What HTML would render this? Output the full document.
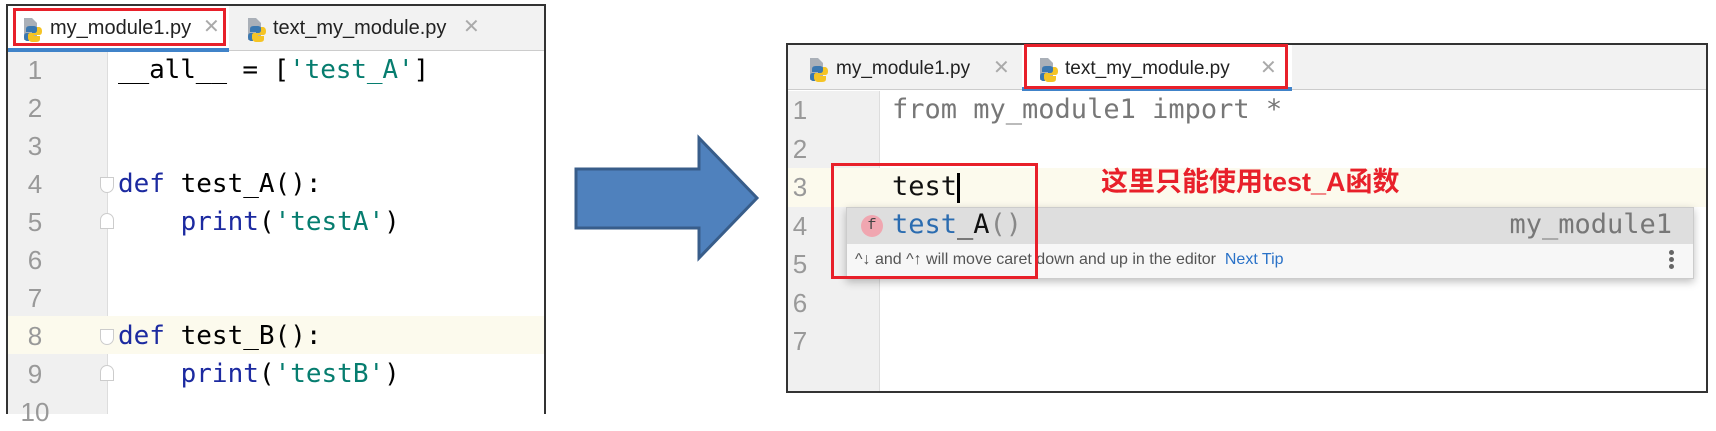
<!DOCTYPE html>
<html><head><meta charset="utf-8"><style>
*{margin:0;padding:0;box-sizing:border-box}
body{width:1716px;height:407px;background:#fff;position:relative;overflow:hidden;font-family:"Liberation Sans","Noto Sans CJK SC",sans-serif}
.a{position:absolute}
.mono{font-family:"DejaVu Sans Mono","Liberation Mono",monospace;white-space:pre}
.ln{position:absolute;font-family:"Liberation Sans",sans-serif;color:#999;font-size:26px;line-height:38px;width:40px;text-align:center}
.kw{color:#1c2aa0}.st{color:#067d6f}
.icon{position:absolute;width:20px;height:24px}
.tab{position:absolute;font-size:19px;color:#222;line-height:24px}
.x{position:absolute;color:#aaa;font-size:20px;line-height:24px}
</style></head><body>

<!-- LEFT PANEL -->
<div class="a" style="left:6px;top:4px;width:540px;height:410px;border:2px solid #333;border-bottom:none;background:#fff;overflow:hidden">
  <div class="a" style="left:0;top:0;width:540px;height:45px;background:#f2f2f2;border-bottom:1px solid #ccc"></div>
  <div class="a" style="left:0;top:0;width:221px;height:45px;background:#fff"></div>
  <div class="a" style="left:0;top:42px;width:221px;height:4px;background:#4083c9"></div>
  <div class="a" style="left:0;top:46px;width:100px;height:370px;background:#f0f0f0;border-right:1px solid #ddd"></div>
  <div class="a" style="left:0;top:310px;width:540px;height:38px;background:#fcfaed"></div>
</div>
<svg class="a" style="left:22px;top:16px" width="22" height="26"><path d="M2 2h8l5 5v17H2z" fill="#aab0b8"/><path d="M8 10c-4 0-4 2-4 4v2h6v1H5c-2 0-3 1-3 4s2 4 3 4h2v-3c0-2 1-3 3-3h4c1 0 2-1 2-2v-3c0-2-2-4-4-4z" fill="#3b78b0"/><path d="M14 26c4 0 4-2 4-4v-2h-6v-1h5c2 0 3-1 3-4s-2-4-3-4h-2v3c0 2-1 3-3 3H8c-1 0-2 1-2 2v3c0 2 2 4 4 4z" fill="#f5c425"/></svg>
<div class="tab" style="left:50px;top:16px;font-size:20px">my_module1.py</div>
<div class="x" style="left:203px;top:15px">✕</div>
<svg class="a" style="left:246px;top:16px" width="22" height="26"><path d="M2 2h8l5 5v17H2z" fill="#aab0b8"/><path d="M8 10c-4 0-4 2-4 4v2h6v1H5c-2 0-3 1-3 4s2 4 3 4h2v-3c0-2 1-3 3-3h4c1 0 2-1 2-2v-3c0-2-2-4-4-4z" fill="#3b78b0"/><path d="M14 26c4 0 4-2 4-4v-2h-6v-1h5c2 0 3-1 3-4s-2-4-3-4h-2v3c0 2-1 3-3 3H8c-1 0-2 1-2 2v3c0 2 2 4 4 4z" fill="#f5c425"/></svg>
<div class="tab" style="left:273px;top:16px;font-size:20px">text_my_module.py</div>
<div class="x" style="left:463px;top:15px">✕</div>
<div class="a" style="left:13px;top:8px;width:213px;height:38px;border:3px solid #e8202a"></div>

<div class="ln" style="left:15px;top:51px">1</div>
<div class="ln" style="left:15px;top:89px">2</div>
<div class="ln" style="left:15px;top:127px">3</div>
<div class="ln" style="left:15px;top:165px">4</div>
<div class="ln" style="left:15px;top:203px">5</div>
<div class="ln" style="left:15px;top:241px">6</div>
<div class="ln" style="left:15px;top:279px">7</div>
<div class="ln" style="left:15px;top:317px">8</div>
<div class="ln" style="left:15px;top:355px">9</div>
<div class="ln" style="left:15px;top:393px">10</div>
<div class="a" style="left:100px;top:177px;width:14px;height:16px;border:1px solid #ccc;border-radius:0 0 7px 7px;background:#fff"></div>
<div class="a" style="left:100px;top:213px;width:14px;height:16px;border:1px solid #ccc;border-radius:7px 7px 0 0;background:#fff"></div>
<div class="a" style="left:100px;top:329px;width:14px;height:16px;border:1px solid #ccc;border-radius:0 0 7px 7px;background:#fff"></div>
<div class="a" style="left:100px;top:365px;width:14px;height:16px;border:1px solid #ccc;border-radius:7px 7px 0 0;background:#fff"></div>

<div class="a mono" style="left:118px;top:51px;font-size:26px;line-height:38px;letter-spacing:-0.1px">__all__ = [<span class="st">'test_A'</span>]</div>
<div class="a mono" style="left:118px;top:165px;font-size:26px;line-height:38px"><span class="kw">def</span> test_A():</div>
<div class="a mono" style="left:118px;top:203px;font-size:26px;line-height:38px">    <span class="kw">print</span>(<span class="st">'testA'</span>)</div>
<div class="a mono" style="left:118px;top:317px;font-size:26px;line-height:38px"><span class="kw">def</span> test_B():</div>
<div class="a mono" style="left:118px;top:355px;font-size:26px;line-height:38px">    <span class="kw">print</span>(<span class="st">'testB'</span>)</div>

<!-- ARROW -->
<svg class="a" style="left:570px;top:132px" width="195" height="132"><polygon points="6,37 129,37 129,6 187,66 129,126 129,96 6,96" fill="#4f81bd" stroke="#385d8a" stroke-width="3"/></svg>

<!-- RIGHT PANEL -->
<div class="a" style="left:786px;top:43px;width:922px;height:350px;border:2px solid #333;background:#fff;overflow:hidden">
  <div class="a" style="left:0;top:0;width:922px;height:45px;background:#f2f2f2;border-bottom:1px solid #ccc"></div>
  <div class="a" style="left:234px;top:0;width:270px;height:45px;background:#fff"></div>
  <div class="a" style="left:234px;top:42px;width:270px;height:4px;background:#4083c9"></div>
  <div class="a" style="left:0;top:46px;width:92px;height:310px;background:#f0f0f0;border-right:1px solid #ddd"></div>
  <div class="a" style="left:0;top:123px;width:922px;height:39px;background:#fcfaed"></div>
</div>
<svg class="a" style="left:808px;top:56px" width="22" height="26"><path d="M2 2h8l5 5v17H2z" fill="#aab0b8"/><path d="M8 10c-4 0-4 2-4 4v2h6v1H5c-2 0-3 1-3 4s2 4 3 4h2v-3c0-2 1-3 3-3h4c1 0 2-1 2-2v-3c0-2-2-4-4-4z" fill="#3b78b0"/><path d="M14 26c4 0 4-2 4-4v-2h-6v-1h5c2 0 3-1 3-4s-2-4-3-4h-2v3c0 2-1 3-3 3H8c-1 0-2 1-2 2v3c0 2 2 4 4 4z" fill="#f5c425"/></svg>
<div class="tab" style="left:836px;top:57px">my_module1.py</div>
<div class="x" style="left:993px;top:56px">✕</div>
<svg class="a" style="left:1038px;top:56px" width="22" height="26"><path d="M2 2h8l5 5v17H2z" fill="#aab0b8"/><path d="M8 10c-4 0-4 2-4 4v2h6v1H5c-2 0-3 1-3 4s2 4 3 4h2v-3c0-2 1-3 3-3h4c1 0 2-1 2-2v-3c0-2-2-4-4-4z" fill="#3b78b0"/><path d="M14 26c4 0 4-2 4-4v-2h-6v-1h5c2 0 3-1 3-4s-2-4-3-4h-2v3c0 2-1 3-3 3H8c-1 0-2 1-2 2v3c0 2 2 4 4 4z" fill="#f5c425"/></svg>
<div class="tab" style="left:1065px;top:57px">text_my_module.py</div>
<div class="x" style="left:1260px;top:56px">✕</div>
<div class="a" style="left:1024px;top:44px;width:264px;height:45px;border:3px solid #e8202a"></div>

<div class="ln" style="left:780px;top:91px">1</div>
<div class="ln" style="left:780px;top:130px">2</div>
<div class="ln" style="left:780px;top:168px">3</div>
<div class="ln" style="left:780px;top:207px">4</div>
<div class="ln" style="left:780px;top:245px">5</div>
<div class="ln" style="left:780px;top:284px">6</div>
<div class="ln" style="left:780px;top:322px">7</div>

<div class="a mono" style="left:892px;top:91px;font-size:27px;line-height:38px;color:#777">from my_module1 import *</div>
<div class="a mono" style="left:892px;top:168px;font-size:27px;line-height:38px;color:#111">test</div>
<div class="a" style="left:957px;top:173px;width:3px;height:30px;background:#000"></div>
<div class="a" style="left:1101px;top:164px;font-size:27px;font-weight:bold;color:#e8202a;line-height:36px;white-space:nowrap;font-family:'Liberation Sans','Noto Sans CJK SC',sans-serif">这里只能使用test_A函数</div>

<!-- popup -->
<div class="a" style="left:846px;top:207px;width:848px;height:72px;background:#f7f7f7;border:1px solid #ccc;box-shadow:0 3px 8px rgba(0,0,0,0.25)">
  <div class="a" style="left:0;top:0;width:846px;height:36px;background:#dedede"></div>
</div>
<div class="a" style="left:861px;top:215px;width:22px;height:22px;border-radius:50%;background:#f0a6b0;color:#444;font-size:15px;line-height:22px;text-align:center;font-family:'Liberation Mono',monospace">f</div>
<div class="a mono" style="left:892px;top:206px;font-size:27px;line-height:38px;color:#2b6cb0">test<span style="color:#111">_A</span><span style="color:#888">()</span></div>
<div class="a mono" style="left:1380px;top:206px;width:292px;text-align:right;font-size:27px;line-height:38px;color:#777">my_module1</div>
<div class="a" style="left:855px;top:249px;font-size:16px;line-height:22px;color:#555;white-space:nowrap">^↓ and ^↑ will move caret down and up in the editor &nbsp;<span style="color:#2a72c8">Next Tip</span></div>
<div class="a" style="left:1669px;top:250px;width:5px;height:5px;border-radius:50%;background:#666"></div>
<div class="a" style="left:1669px;top:257px;width:5px;height:5px;border-radius:50%;background:#666"></div>
<div class="a" style="left:1669px;top:264px;width:5px;height:5px;border-radius:50%;background:#666"></div>

<div class="a" style="left:831px;top:163px;width:207px;height:116px;border:3px solid #e8202a"></div>
</body></html>
